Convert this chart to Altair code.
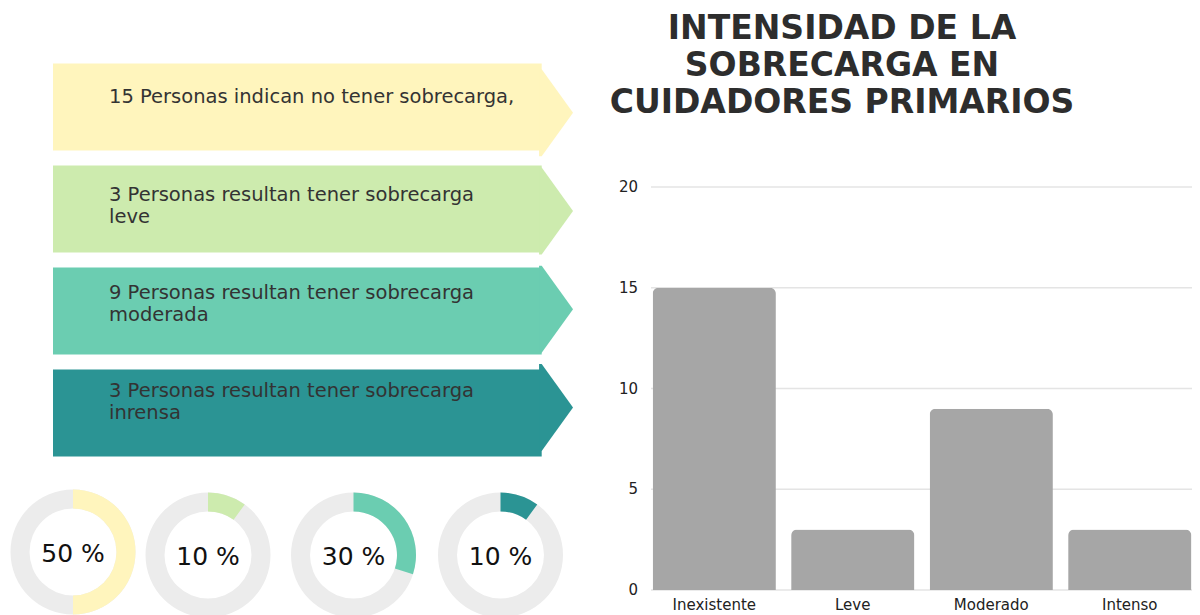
import altair as alt
import pandas as pd
import math

# ---------------- data ----------------
categories = ["Inexistente", "Leve", "Moderado", "Intenso"]
counts = [15, 3, 9, 3]
y_ticks = [0, 5, 10, 15, 20]
percents = [50, 10, 30, 10]
percent_labels = ["50 %", "10 %", "30 %", "10 %"]
arrow_texts = [
    "15 Personas indican no tener sobrecarga,",
    "3 Personas resultan tener sobrecarga\nleve",
    "9 Personas resultan tener sobrecarga\nmoderada",
    "3 Personas resultan tener sobrecarga\ninrensa",
]
title_lines = ["INTENSIDAD DE LA", "SOBRECARGA EN", "CUIDADORES PRIMARIOS"]
palette = ["#fff5bd", "#cdebae", "#6bcdb1", "#2b9494"]

FONT = "DejaVu Sans"
W, H = 1184, 607

color_scale = alt.Scale(domain=categories, range=palette)

# ---------------- left: arrows ----------------
arrow_df = pd.DataFrame({"cat": categories, "txt": arrow_texts})
arrow_y = alt.Y("cat:N", sort=categories, axis=None,
                scale=alt.Scale(domain=categories, range=[55.5, 448.5],
                                paddingInner=0.147, paddingOuter=0))
arrow_col = alt.Color("cat:N", scale=color_scale, legend=None)

arrow_body = alt.Chart(arrow_df).mark_bar(opacity=1).encode(
    y=arrow_y, x=alt.value(45), x2=alt.value(533.7), color=arrow_col)

tip_path = "M -0.06 -1 L 0 -1 L 0.72 0 L 0 1 L -0.06 1 Z"
arrow_tip = alt.Chart(arrow_df).mark_point(
    shape=tip_path, size=87 * 87, filled=True, opacity=1, strokeWidth=0
).encode(y=arrow_y, x=alt.value(533.7), color=arrow_col)

arrow_label = alt.Chart(arrow_df).mark_text(
    align="left", baseline="top", lineBreak="\n", lineHeight=22,
    font=FONT, fontSize=19.5, color="#333333", dy=-25
).encode(y=arrow_y, x=alt.value(101), text="txt:N")

# ---------------- donuts ----------------
donut_centers = [(65, 544), (200, 547), (345.5, 547), (492.5, 547)]
donut_layers = []
for i, (cx, cy) in enumerate(donut_centers):
    d = pd.DataFrame({"cat": [categories[i]], "pct": [percents[i]],
                      "zero": [0], "lab": [percent_labels[i]]})
    bg = alt.Chart(d).mark_arc(
        radius=62.5, radius2=43.5, theta=0, theta2=2 * math.pi, color="#ececec"
    ).encode(x=alt.value(cx), y=alt.value(cy))
    fg = alt.Chart(d).mark_arc(radius=62.5, radius2=43.5).encode(
        x=alt.value(cx), y=alt.value(cy),
        theta=alt.Theta("pct:Q", stack=None,
                        scale=alt.Scale(domain=[0, 100], range=[0, 2 * math.pi])),
        theta2="zero:Q",
        color=alt.Color("cat:N", scale=color_scale, legend=None))
    tx = alt.Chart(d).mark_text(
        font=FONT, fontSize=25, color="#111111", align="center", baseline="middle"
    ).encode(x=alt.value(cx), y=alt.value(cy + 1.6), text="lab:N")
    donut_layers += [bg, fg, tx]

# ---------------- title ----------------
title_df = pd.DataFrame({"i": list(range(len(title_lines))), "t": title_lines})
title = alt.Chart(title_df).mark_text(
    font=FONT, fontSize=33, fontWeight="bold", color="#2d2d2d",
    align="center", baseline="middle"
).encode(
    x=alt.value(834),
    y=alt.Y("i:Q", axis=None, scale=alt.Scale(domain=[0, 2], range=[21, 95])),
    text="t:N")

# ---------------- bar chart ----------------
bar_df = pd.DataFrame({"cat": categories, "val": counts})
tick_df = pd.DataFrame({"t": y_ticks})

yq = alt.Scale(domain=[0, 20], range=[582, 179], nice=False, zero=True)
xb = alt.Scale(domain=categories, range=[637, 1191],
               paddingInner=0.11, paddingOuter=0.055)

grid = alt.Chart(tick_df).mark_rule(color="#e4e4e4", strokeWidth=1.5).encode(
    y=alt.Y("t:Q", scale=yq, axis=None), x=alt.value(643), x2=alt.value(W))

ylab = alt.Chart(tick_df).mark_text(
    font=FONT, fontSize=15, color="#222222", align="right", baseline="middle"
).encode(y=alt.Y("t:Q", scale=yq, axis=None), x=alt.value(630), text="t:Q")

bars = alt.Chart(bar_df).mark_bar(
    color="#a6a6a6", cornerRadiusTopLeft=6, cornerRadiusTopRight=6
).encode(
    x=alt.X("cat:N", sort=categories, scale=xb, axis=None),
    y=alt.Y("val:Q", scale=yq, axis=None))

xlab = alt.Chart(bar_df).mark_text(
    font=FONT, fontSize=15, color="#222222", align="center", baseline="middle"
).encode(x=alt.X("cat:N", sort=categories, scale=xb, axis=None),
         y=alt.value(597), text="cat:N")

chart = alt.layer(
    arrow_body, arrow_tip, arrow_label, *donut_layers,
    title, grid, bars, ylab, xlab
).resolve_scale(x="independent", y="independent").properties(
    width=W, height=H, autosize=alt.AutoSizeParams(type="none"),
    padding=0, background="white"
).configure_view(stroke=None)

chart.save("out.html", embed_options={"renderer": "svg", "actions": False})
